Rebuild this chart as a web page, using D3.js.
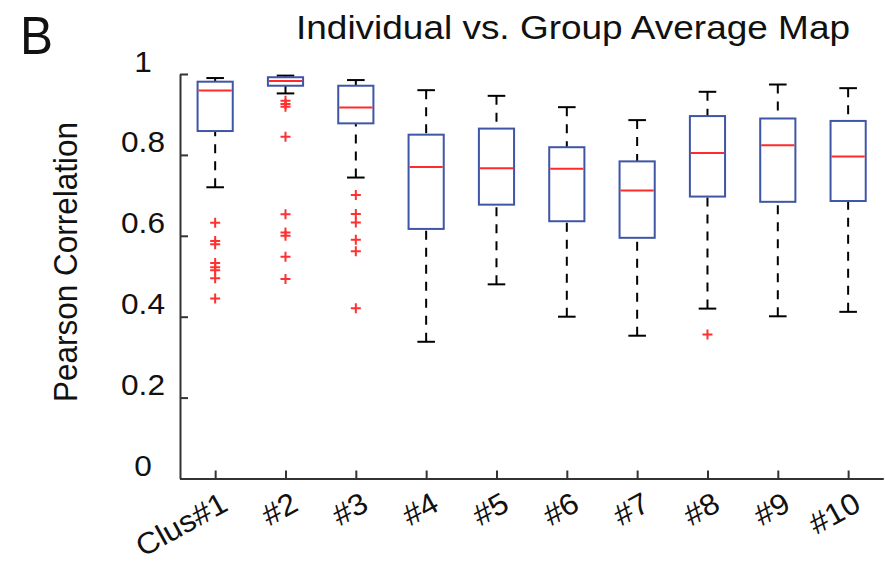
<!DOCTYPE html>
<html>
<head>
<meta charset="utf-8">
<script src="https://cdn.jsdelivr.net/npm/d3@7"></script>
<style>
  html, body { margin: 0; padding: 0; background: #fff; }
  svg { display: block; font-family: "Liberation Sans", Arial, sans-serif; }
</style>
</head>
<body>
<svg id="chart" width="885" height="561"></svg>
<script>
// Cluster labels along the x axis
const categories = ["Clus#1", "#2", "#3", "#4", "#5", "#6", "#7", "#8", "#9", "#10"];

// Box-plot summary statistics per cluster (Pearson correlation)
const whiskerHigh = [0.990, 0.996, 0.985, 0.960, 0.946, 0.918, 0.886, 0.956, 0.974, 0.965];
const q3          = [0.981, 0.992, 0.971, 0.850, 0.865, 0.819, 0.784, 0.896, 0.890, 0.884];
const medians     = [0.959, 0.983, 0.917, 0.770, 0.767, 0.766, 0.712, 0.805, 0.824, 0.796];
const q1          = [0.859, 0.971, 0.878, 0.617, 0.677, 0.636, 0.595, 0.697, 0.684, 0.686];
const whiskerLow  = [0.720, 0.952, 0.744, 0.338, 0.480, 0.400, 0.353, 0.420, 0.401, 0.412];

// Outlying subjects beyond the whiskers
const outliers = [
  [0.632, 0.587, 0.579, 0.533, 0.522, 0.515, 0.495, 0.445],
  [0.934, 0.926, 0.919, 0.845, 0.653, 0.608, 0.600, 0.548, 0.493],
  [0.701, 0.654, 0.633, 0.590, 0.562, 0.421],
  [], [], [], [],
  [0.356],
  [], []
];

const yTicks = [0, 0.2, 0.4, 0.6, 0.8, 1];

const svg = d3.select("#chart");
const hStretch = 1.09;   // glyphs in this figure are drawn slightly wide

function stretch(sel, k) {
  sel.each(function () {
    const w = this.getComputedTextLength();
    d3.select(this).attr("textLength", w * k).attr("lengthAdjust", "spacingAndGlyphs");
  });
}

// Scales: boxes sit at integer positions 1..10 with half a unit of margin
const x = d3.scaleLinear().domain([0.5, 10.5]).range([180, 883.3]);
const y = d3.scaleLinear().domain([0, 1]).range([478.5, 74]);
const unit = x(2) - x(1);
const boxW = 0.5 * unit;
const capW = 0.25 * unit;

const axisColor = "#333";
const textColor = "#111";

// Y axis with inward ticks
const yAxis = svg.append("g")
  .attr("transform", `translate(${x(0.5)},0)`)
  .call(d3.axisLeft(y).tickValues(yTicks).tickSize(-8).tickSizeOuter(0).tickFormat(d3.format("")));
yAxis.select(".domain").attr("stroke", axisColor).attr("stroke-width", 2);
yAxis.selectAll(".tick line").attr("stroke", axisColor).attr("stroke-width", 2);
yAxis.selectAll(".tick text")
  .attr("x", 143 - x(0.5))
  .attr("dy", -3)
  .attr("text-anchor", "middle")
  .attr("fill", textColor)
  .attr("font-size", 29)
  .call(stretch, hStretch);

// X axis with inward ticks and slanted cluster labels
const xAxis = svg.append("g")
  .attr("transform", `translate(0,${y(0)})`)
  .call(d3.axisBottom(x).tickValues(d3.range(1, 11)).tickSize(-8).tickSizeOuter(0)
    .tickFormat(d => categories[d - 1]));
xAxis.select(".domain").attr("stroke", axisColor).attr("stroke-width", 2);
xAxis.selectAll(".tick line").attr("stroke", axisColor).attr("stroke-width", 2);
xAxis.selectAll(".tick text")
  .attr("x", 0).attr("y", 0).attr("dy", 0)
  .attr("text-anchor", "end")
  .attr("transform", "translate(14,31) rotate(-29)")
  .attr("fill", textColor)
  .attr("font-size", 30)
  .call(stretch, 1.06);

// Boxes
const data = categories.map((c, i) => ({
  i: i + 1, hi: whiskerHigh[i], q3: q3[i], med: medians[i], q1: q1[i], lo: whiskerLow[i], out: outliers[i]
}));

const g = svg.append("g");
const box = g.selectAll("g.box").data(data).join("g").attr("class", "box");

// dashed whiskers, drawn from the cap toward the box
box.append("line")
  .attr("x1", d => x(d.i)).attr("x2", d => x(d.i))
  .attr("y1", d => y(d.hi)).attr("y2", d => y(d.q3))
  .attr("stroke", "#000").attr("stroke-width", 2).attr("stroke-dasharray", "9,8");
box.append("line")
  .attr("x1", d => x(d.i)).attr("x2", d => x(d.i))
  .attr("y1", d => y(d.lo)).attr("y2", d => y(d.q1))
  .attr("stroke", "#000").attr("stroke-width", 2).attr("stroke-dasharray", "9,8");

// whisker caps
box.append("line")
  .attr("x1", d => x(d.i) - capW / 2).attr("x2", d => x(d.i) + capW / 2)
  .attr("y1", d => y(d.hi)).attr("y2", d => y(d.hi))
  .attr("stroke", "#000").attr("stroke-width", 2);
box.append("line")
  .attr("x1", d => x(d.i) - capW / 2).attr("x2", d => x(d.i) + capW / 2)
  .attr("y1", d => y(d.lo)).attr("y2", d => y(d.lo))
  .attr("stroke", "#000").attr("stroke-width", 2);

// interquartile box
box.append("rect")
  .attr("x", d => x(d.i) - boxW / 2)
  .attr("width", boxW)
  .attr("y", d => y(d.q3))
  .attr("height", d => y(d.q1) - y(d.q3))
  .attr("fill", "none")
  .attr("stroke", "#3f55a6")
  .attr("stroke-width", 2);

// median
box.append("line")
  .attr("x1", d => x(d.i) - boxW / 2 + 1).attr("x2", d => x(d.i) + boxW / 2 - 1)
  .attr("y1", d => y(d.med)).attr("y2", d => y(d.med))
  .attr("stroke", "#ff2a2a").attr("stroke-width", 2);

// outlier crosses
const m = 5;
box.each(function (d) {
  d3.select(this).selectAll("path.out").data(d.out).join("path")
    .attr("class", "out")
    .attr("d", v => `M${x(d.i) - m},${y(v)}H${x(d.i) + m}M${x(d.i)},${y(v) - m}V${y(v) + m}`)
    .attr("stroke", "#ff3030")
    .attr("stroke-width", 2)
    .attr("fill", "none");
});

// Axis title
svg.append("text")
  .attr("transform", `translate(77,262) rotate(-90)`)
  .attr("text-anchor", "middle")
  .attr("font-size", 34)
  .attr("fill", textColor)
  .attr("textLength", 280)
  .attr("lengthAdjust", "spacingAndGlyphs")
  .text("Pearson Correlation");

// Chart title
svg.append("text")
  .attr("x", 296).attr("y", 39)
  .attr("font-size", 34)
  .attr("fill", textColor)
  .attr("textLength", 554)
  .attr("lengthAdjust", "spacingAndGlyphs")
  .text("Individual vs. Group Average Map");

// Panel letter
svg.append("text")
  .attr("x", 20).attr("y", 54)
  .attr("font-size", 54)
  .attr("fill", textColor)
  .attr("textLength", 33)
  .attr("lengthAdjust", "spacingAndGlyphs")
  .text("B");
</script>
</body>
</html>
